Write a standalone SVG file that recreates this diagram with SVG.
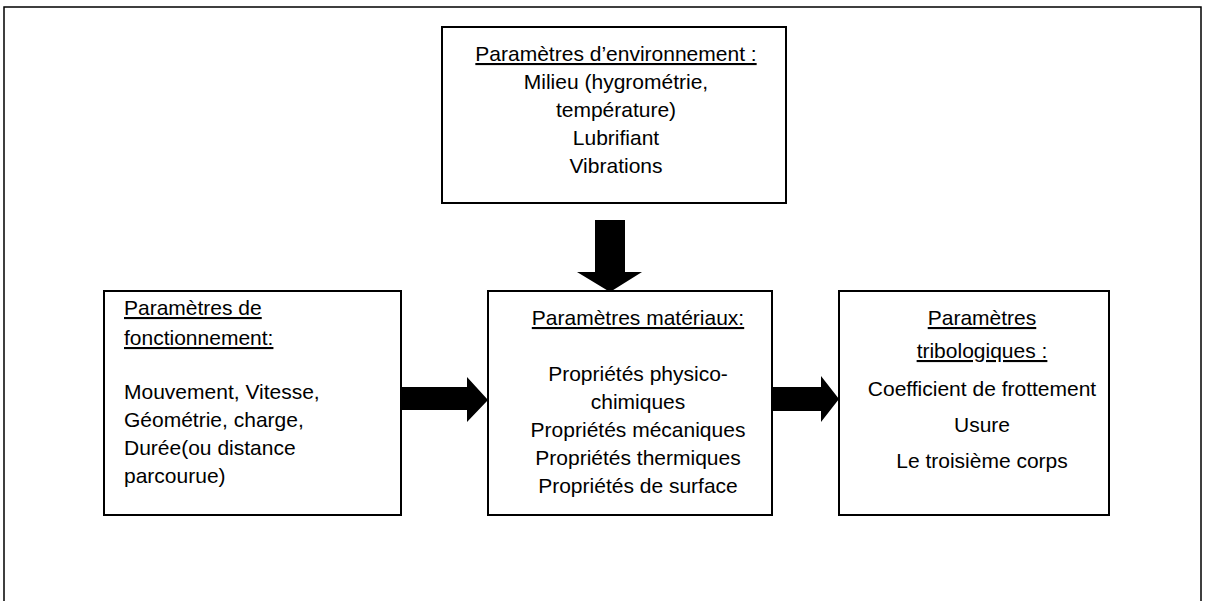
<svg xmlns="http://www.w3.org/2000/svg" width="1205" height="601" viewBox="0 0 1205 601">
<style>
.box{fill:#fff;stroke:#000;stroke-width:2}
.t{font-family:"Liberation Sans",Arial,sans-serif;font-size:21px;fill:#000}
.c{text-anchor:middle}
.u{text-decoration:underline}
.arr{fill:#000;stroke:none}
.frame{fill:none;stroke:#000;stroke-width:1.5}
</style>
<rect width="1205" height="601" fill="#fff"/>
<path class="frame" d="M4,601 V7 H1201 V601"/>
<g id="environnement">
<rect class="box" x="442" y="27" width="344" height="176"/>
<text class="t c u" x="616" y="61">Paramètres d’environnement :</text>
<text class="t c" x="616" y="89">Milieu (hygrométrie,</text>
<text class="t c" x="616" y="117">température)</text>
<text class="t c" x="616" y="145">Lubrifiant</text>
<text class="t c" x="616" y="173">Vibrations</text>
</g>
<g id="fonctionnement">
<rect class="box" x="104" y="291" width="297" height="224"/>
<text class="t u" x="124" y="315">Paramètres de</text>
<text class="t u" x="124" y="345">fonctionnement:</text>
<text class="t" x="124" y="399">Mouvement, Vitesse,</text>
<text class="t" x="124" y="427">Géométrie, charge,</text>
<text class="t" x="124" y="455">Durée(ou distance</text>
<text class="t" x="124" y="483">parcourue)</text>
</g>
<g id="materiaux">
<rect class="box" x="488" y="291" width="284" height="224"/>
<text class="t c u" x="638" y="325">Paramètres matériaux:</text>
<text class="t c" x="638" y="381">Propriétés physico-</text>
<text class="t c" x="638" y="409">chimiques</text>
<text class="t c" x="638" y="437">Propriétés mécaniques</text>
<text class="t c" x="638" y="465">Propriétés thermiques</text>
<text class="t c" x="638" y="493">Propriétés de surface</text>
</g>
<g id="tribologiques">
<rect class="box" x="839" y="291" width="270" height="224"/>
<text class="t c u" x="982" y="325">Paramètres</text>
<text class="t c u" x="982" y="358">tribologiques :</text>
<text class="t c" x="982" y="396">Coefficient de frottement</text>
<text class="t c" x="982" y="432">Usure</text>
<text class="t c" x="982" y="468">Le troisième corps</text>
</g>
<g id="connectors">
<polygon class="arr" points="595,220 625,220 625,272 642,272 610,292 577,272 595,272"/>
<polygon class="arr" points="401,387 467,387 467,377 488,400 467,422 467,410 401,410"/>
<polygon class="arr" points="772,387 821,387 821,376 839,399 821,422 821,411 772,411"/>
</g>
</svg>
